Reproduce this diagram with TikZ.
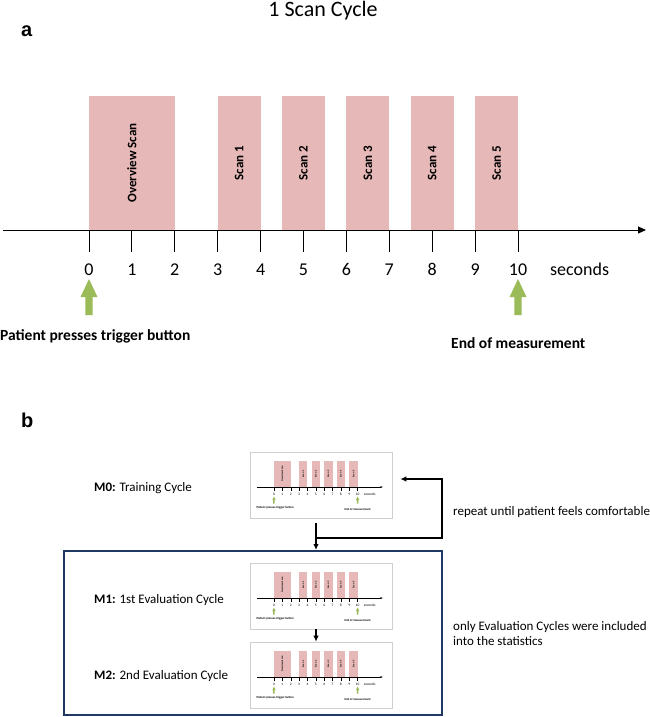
\documentclass[tikz,border=0pt]{standalone}
\usepackage{fontspec}
\setmainfont{Carlito}
\newfontfamily\panelfont{Liberation Sans}
\usetikzlibrary{arrows.meta,shadows}
\definecolor{scanpink}{HTML}{E6B8B7}
\definecolor{trigreen}{HTML}{9BBB59}
\definecolor{evalblue}{HTML}{1F3864}
\definecolor{thumbgray}{HTML}{CFCFCF}
\tikzset{
  scanbox/.style={fill=scanpink, rotate=90, inner sep=0pt, font=\bfseries\fontsize{13}{15}\selectfont},
  numlbl/.style={anchor=base, inner sep=0pt, font=\fontsize{18}{21}\selectfont},
  boldlbl/.style={anchor=base west, inner sep=0pt, font=\bfseries\fontsize{15.5}{18}\selectfont},
  plainlbl/.style={anchor=base west, inner sep=0pt, font=\fontsize{13}{15}\selectfont},
  panellbl/.style={anchor=base west, inner sep=0pt, font=\panelfont\bfseries\fontsize{20}{24}\selectfont},
  thumbframe/.style={draw=thumbgray, line width=0.6pt, fill=white, minimum width=142pt, minimum height=66pt, inner sep=0pt, drop shadow={shadow xshift=1.2pt, shadow yshift=-1.2pt, opacity=0.3}},
  conn/.style={line width=1.6pt, -{Latex[length=6pt,width=5.5pt]}},
}
\newcommand\trigarrow[1]{%
  \fill[trigreen] (#1,279) -- ++(8.5,18) -- ++(-4.8,0) -- ++(0,18) -- ++(-7.4,0) -- ++(0,-18) -- ++(-4.8,0) -- cycle;}
\newcommand\scancycle[2]{%
  \foreach \xa/\xb/\lab/\nm in {0/2/Overview Scan/ov,3/4/Scan 1/sa,4.5/5.5/Scan 2/sb,6/7/Scan 3/sc,7.5/8.5/Scan 4/sd,9/10/Scan 5/se}{
    \node[scanbox, minimum width=134pt, minimum height={(\xb-\xa)*42.9pt}] (#1\nm) at ({89+(\xa+\xb)/2*42.9},163) {\lab};
  }
  \coordinate (#1axl) at (3,230);
  \coordinate (#1axr) at (646,230);
  \draw[line width=#2, -{Triangle[length=0pt 8,width=0pt 7]}] (#1axl) -- (#1axr);
  \foreach \k in {0,...,10}{
    \coordinate (#1t\k) at ({89+\k*42.9},230);
    \draw[line width=#2] (#1t\k) -- ++(0,22);
    \node[numlbl] (#1n\k) at ({89+\k*42.9},275) {\k};
  }
  \node[anchor=base west, inner sep=0pt, font=\fontsize{18}{21}\selectfont] (#1sec) at (550,275) {seconds};
  \trigarrow{89}
  \trigarrow{518}
  \node[boldlbl] (#1trig) at (0,340) {Patient presses trigger button};
  \node[boldlbl] (#1end) at (451,348) {End of measurement};
}
\begin{document}
\begin{tikzpicture}[x=1pt,y=-1pt]
\fill[white] (0,0) rectangle (649,717);
\useasboundingbox (0,0) rectangle (649,717);
% panel a
\node[anchor=base, inner sep=0pt, font=\fontsize{22}{26}\selectfont] (title) at (323,17) {1 Scan Cycle};
\node[panellbl] (lbla) at (21,37) {a};
\scancycle{a}{1pt}
% panel b
\node[panellbl] (lblb) at (21,427) {b};
\node[draw=evalblue, line width=2pt, minimum width=378pt, minimum height=164pt, inner sep=0pt] (evalbox) at (253,633) {};
\node[thumbframe] (m0) at (321,485) {};
\begin{scope}[shift={(256.6,442.15)}, scale=0.195, transform shape]\scancycle{p}{0.25pt}\end{scope}
\node[thumbframe] (m1) at (321,596) {};
\begin{scope}[shift={(256.6,553.15)}, scale=0.195, transform shape]\scancycle{q}{0.25pt}\end{scope}
\node[thumbframe] (m2) at (321,675) {};
\begin{scope}[shift={(256.6,632.15)}, scale=0.195, transform shape]\scancycle{r}{0.25pt}\end{scope}
\node[plainlbl] (m0lbl) at (94,491) {\textbf{M0:} Training Cycle};
\node[plainlbl] (m1lbl) at (94,603) {\textbf{M1:} 1st Evaluation Cycle};
\node[plainlbl] (m2lbl) at (94,679) {\textbf{M2:} 2nd Evaluation Cycle};
\node[plainlbl] (rep) at (453,515) {repeat until patient feels comfortable};
\node[plainlbl] (only1) at (453,630) {only Evaluation Cycles were included};
\node[plainlbl] (only2) at (453,645) {into the statistics};
% connectors
\coordinate (dtop) at (316,523);
\coordinate (jn) at (316,538);
\coordinate (lp) at (442,479);
\draw[conn] (dtop) -- (dtop |- evalbox.north);
\draw[conn, shorten >=8pt] (jn) -| (lp) -- (m0.east |- lp);
\draw[conn] ([xshift=-5pt]m1.south) -- ([xshift=-5pt]m2.north);
\end{tikzpicture}
\end{document}
